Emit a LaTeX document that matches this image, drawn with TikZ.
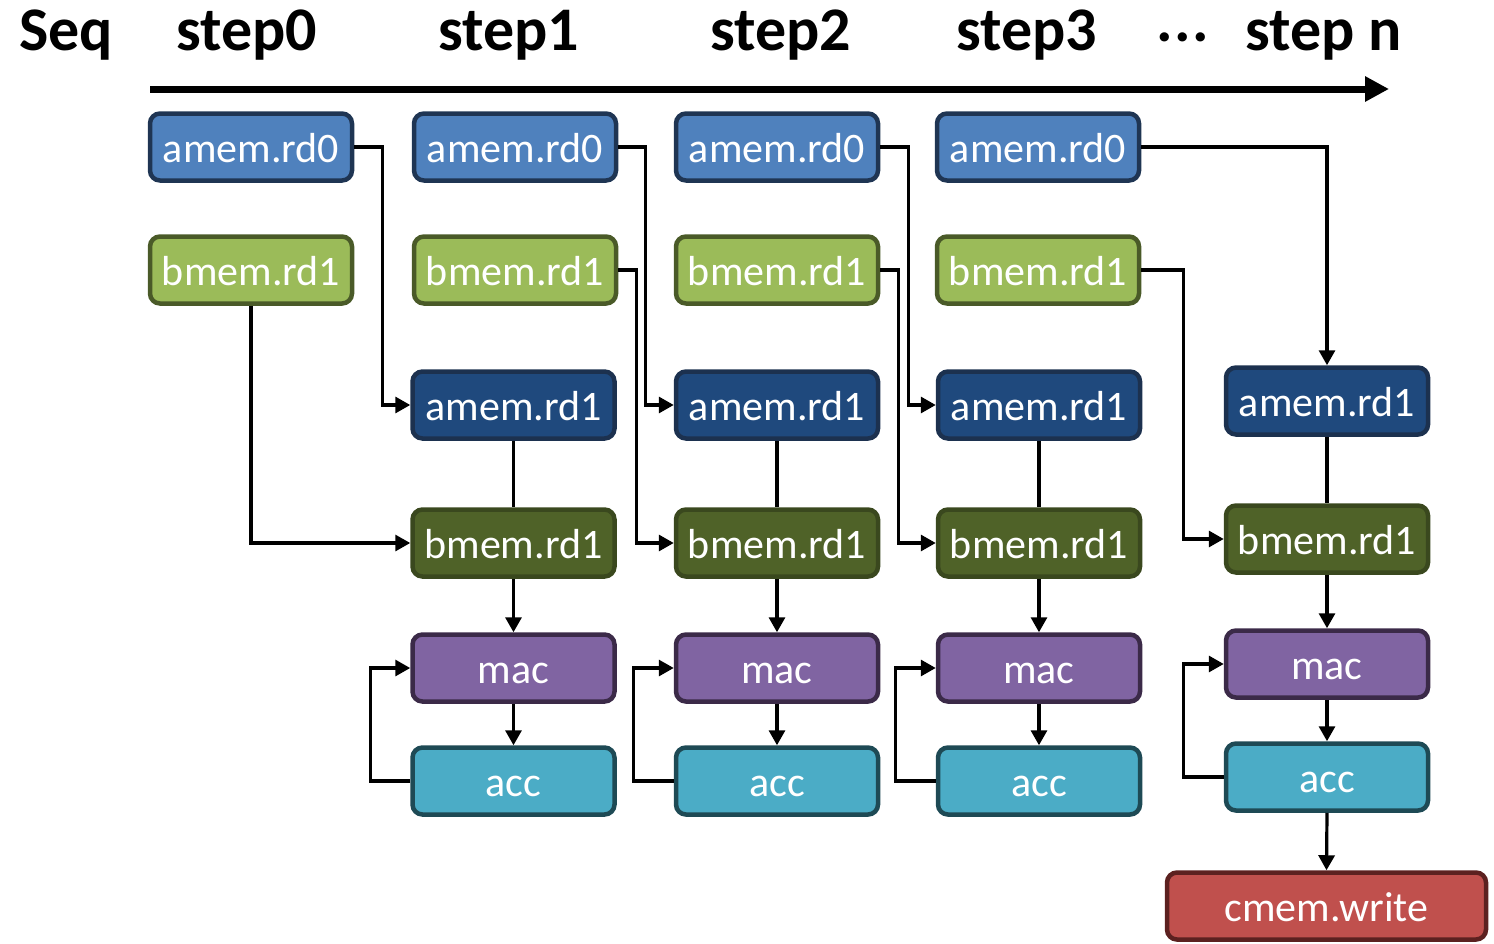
\documentclass[tikz,border=0pt]{standalone}
\usepackage{fontspec}
\setmainfont{Carlito}
\usetikzlibrary{arrows.meta}
\definecolor{aLight}{HTML}{4F81BD}
\definecolor{aLightB}{HTML}{1F3553}
\definecolor{bLight}{HTML}{9BBB59}
\definecolor{bLightB}{HTML}{4A5A28}
\definecolor{aDark}{HTML}{1F497D}
\definecolor{aDarkB}{HTML}{1C314F}
\definecolor{bDark}{HTML}{4F6228}
\definecolor{bDarkB}{HTML}{3A481E}
\definecolor{macF}{HTML}{8064A2}
\definecolor{macB}{HTML}{3B2A48}
\definecolor{accF}{HTML}{4BACC6}
\definecolor{accB}{HTML}{1E4A55}
\definecolor{wrF}{HTML}{C0504D}
\definecolor{wrB}{HTML}{5C2120}
\tikzset{
  box/.style={draw, rounded corners=10pt, line width=4.5pt,
    minimum width=202pt, minimum height=67pt, inner sep=2pt,
    text=white, font=\fontsize{42}{48}\selectfont,
    text height=30pt, text depth=0pt},
  ard0/.style={box, fill=aLight, draw=aLightB},
  brd1/.style={box, fill=bLight, draw=bLightB},
  ard1/.style={box, fill=aDark, draw=aDarkB},
  brdd/.style={box, fill=bDark, draw=bDarkB},
  macbox/.style={box, fill=macF, draw=macB},
  accbox/.style={box, fill=accF, draw=accB},
  wrbox/.style={box, fill=wrF, draw=wrB, minimum width=319pt},
  hdr/.style={anchor=base, inner sep=0pt, font=\fontsize{62}{70}\selectfont\bfseries},
  dots/.style={inner sep=0pt, font=\fontsize{62}{70}\selectfont\bfseries},
  link/.style={line width=3.2pt, line join=miter},
  flow/.style={link, -{Triangle[length=15pt,width=16pt]}},
}
\begin{document}
\begin{tikzpicture}[x=1pt, y=-1pt]
\useasboundingbox (0,0) rectangle (1494,943);

% header row and time axis
\node[hdr] (hseq) at (66,50) {Seq};
\node[hdr] (h0) at (247,50) {step0};
\node[hdr] (h1) at (509,50) {step1};
\node[hdr] (h2) at (781,50) {step2};
\node[hdr] (h3) at (1027,50) {step3};
\node[dots] (hd) at (1183,37) {.\kern1.5pt.\kern1.5pt.};
\node[hdr] (hn) at (1324,50) {step n};
\coordinate (ax0) at (150,89);
\coordinate (ax1) at (1389,89);
\draw[line width=7pt, -{Triangle[length=24pt,width=24pt]}] (ax0) -- (ax1);

% memory reads issued at each step
\node[ard0] (a00) at (251,147) {amem.rd0};
\node[ard0] (a01) at (515,147) {amem.rd0};
\node[ard0] (a02) at (777,147) {amem.rd0};
\node[ard0] (a03) at (1038,147) {amem.rd0};
\node[brd1] (b00) at (251,270) {bmem.rd1};
\node[brd1] (b01) at (515,270) {bmem.rd1};
\node[brd1] (b02) at (777,270) {bmem.rd1};
\node[brd1] (b03) at (1038,270) {bmem.rd1};

% pipelined stages
\foreach \i/\x in {1/513.5, 2/777, 3/1039} {
  \node[ard1] (a1\i) at (\x,405) {amem.rd1};
  \node[brdd] (b1\i) at (\x,543) {bmem.rd1};
  \node[macbox] (m\i) at (\x,668) {mac};
  \node[accbox] (c\i) at (\x,781) {acc};
}
\node[ard1] (a14) at (1327,401) {amem.rd1};
\node[brdd] (b14) at (1327,539) {bmem.rd1};
\node[macbox] (m4) at (1327,664) {mac};
\node[accbox] (c4) at (1327,777) {acc};
\node[wrbox] (w) at (1326.5,906) {cmem.write};

% read forwarding between steps
\draw[flow] (a00.east) -- ++(28,0) |- (a11.west);
\draw[flow] (b00.south) |- (b11.west);
\draw[flow] (a01.east) -- ++(27,0) |- (a12.west);
\draw[flow] (b01.east) -- ++(18,0) |- (b12.west);
\draw[flow] (a02.east) -- ++(28,0) |- (a13.west);
\draw[flow] (b02.east) -- ++(18,0) |- (b13.west);
\draw[flow] (a03.east) -| (a14.north);
\draw[flow] (b03.east) -- ++(42,0) |- (b14.west);

% stage chain and accumulator feedback
\foreach \i in {1,2,3,4} {
  \draw[link] (a1\i.south) -- (b1\i.north);
  \draw[flow] (b1\i.south) -- (m\i.north);
  \draw[flow] (m\i.south) -- (c\i.north);
  \draw[flow] (c\i.west) -- ++(-40,0) |- (m\i.west);
}
\draw[flow] (c4.south) -- (w.north);
\end{tikzpicture}
\end{document}
